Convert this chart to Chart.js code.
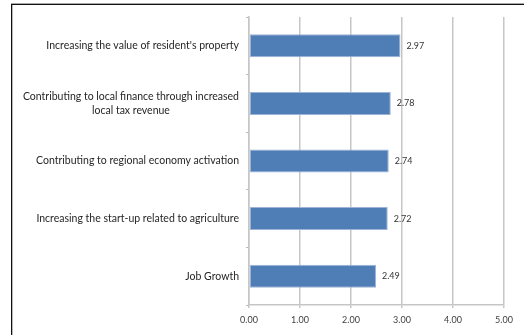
<!DOCTYPE html>
<html>
<head>
<meta charset="utf-8">
<script src="https://cdn.jsdelivr.net/npm/chart.js@4/dist/chart.umd.min.js"></script>
<style>
  html, body { margin: 0; padding: 0; background: #fff; }
  #wrap { width: 524px; height: 335px; position: relative; }
</style>
</head>
<body>
<div id="wrap"><canvas id="c" width="524" height="335"></canvas></div>
<script>
// Perceived effects (mean score, 0-5 scale)
const categories = [
  "Increasing the value of resident's property",
  ["Contributing to local finance through increased", "local tax revenue"],
  "Contributing to regional economy activation",
  "Increasing the start-up related to agriculture",
  "Job Growth"
];
const values = [2.97, 2.78, 2.74, 2.72, 2.49];
const xTicks = [0, 1, 2, 3, 4, 5];

const LABEL_FONT = '10.5px Lato';
const SMALL_FONT = '9px Lato';

// Outer frame lines (top and left edges)
const framePlugin = {
  id: 'frame',
  beforeDraw(chart) {
    const ctx = chart.ctx;
    ctx.save();
    ctx.fillStyle = '#fff';
    ctx.fillRect(0, 0, chart.width, chart.height);
    ctx.fillStyle = '#a8a8a8';
    ctx.fillRect(11, 3, chart.width - 11, 1);
    ctx.fillStyle = '#111';
    ctx.fillRect(11, 4, chart.width - 11, 1);
    ctx.fillRect(11, 4, 1.3, chart.height - 4);
    ctx.restore();
  }
};

// Category labels: block right-aligned to the axis, lines centred within the block
const catLabelPlugin = {
  id: 'catLabels',
  afterDraw(chart) {
    const ctx = chart.ctx;
    const y = chart.scales.y;
    const right = chart.chartArea.left - 10;
    const lineH = 14;
    ctx.save();
    ctx.font = LABEL_FONT;
    ctx.fillStyle = '#262626';
    ctx.textBaseline = 'middle';
    ctx.textAlign = 'center';
    categories.forEach((lab, i) => {
      const lines = Array.isArray(lab) ? lab : [lab];
      const w = Math.max(...lines.map(l => ctx.measureText(l).width));
      const cx = right - w / 2;
      const cy = y.getPixelForValue(i);
      const top = cy - (lines.length - 1) * lineH / 2;
      lines.forEach((l, k) => ctx.fillText(l, cx, top + k * lineH));
    });
    ctx.restore();
  }
};

// Value labels at the end of each bar
const valueLabelPlugin = {
  id: 'valueLabels',
  afterDatasetsDraw(chart) {
    const ctx = chart.ctx;
    const meta = chart.getDatasetMeta(0);
    ctx.save();
    ctx.font = SMALL_FONT;
    ctx.fillStyle = '#333';
    ctx.textAlign = 'left';
    ctx.textBaseline = 'middle';
    meta.data.forEach((bar, i) => {
      ctx.fillText(values[i].toFixed(2), bar.x + 6, bar.y);
    });
    ctx.restore();
  }
};

new Chart(document.getElementById('c'), {
  type: 'bar',
  data: {
    labels: categories.map(c => Array.isArray(c) ? c.join(' ') : c),
    datasets: [{
      data: values,
      backgroundColor: '#4F7DB6',
      borderColor: '#9DB4D6',
      borderWidth: 1,
      borderSkipped: false,
      categoryPercentage: 1,
      barPercentage: 0.4
    }]
  },
  options: {
    indexAxis: 'y',
    responsive: false,
    animation: false,
    devicePixelRatio: 1,
    layout: { padding: { top: 17, right: 20, left: 0, bottom: 0 } },
    plugins: { legend: { display: false }, tooltip: { enabled: false } },
    scales: {
      x: {
        min: 0,
        max: 5,
        afterBuildTicks(scale) { scale.ticks = xTicks.map(v => ({ value: v })); },
        afterFit(scale) { scale.height = 30; },
        grid: { color: '#c6c6c6', lineWidth: 1.5, drawTicks: true, tickLength: 3 },
        border: { display: true, color: '#c6c6c6', width: 1.5 },
        ticks: {
          padding: 7,
          color: '#404040',
          font: { family: 'Lato', size: 9 },
          callback: v => Number(v).toFixed(2)
        }
      },
      y: {
        offset: true,
        afterFit(scale) { scale.width = 249; },
        grid: { offset: true, drawOnChartArea: false, drawTicks: true, tickLength: 3, color: '#b8b8b8' },
        border: { display: true, color: '#c6c6c6', width: 1.5 },
        ticks: { display: false }
      }
    }
  },
  plugins: [framePlugin, catLabelPlugin, valueLabelPlugin]
});
</script>
</body>
</html>
